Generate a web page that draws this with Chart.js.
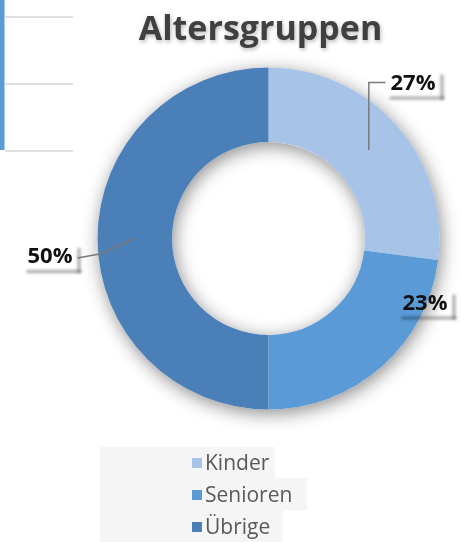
<!DOCTYPE html>
<html>
<head>
<meta charset="utf-8">
<title>Altersgruppen</title>
<script src="https://cdn.jsdelivr.net/npm/chart.js@4.4.0/dist/chart.umd.min.js"></script>
<style>
    html, body { margin: 0; padding: 0; background: #fff; }
    #wrap { position: relative; width: 462px; height: 542px; }
</style>
</head>
<body>
<div id="wrap"><canvas id="chart"></canvas></div>
<script>
const categories = ['Kinder', 'Senioren', 'Übrige'];
const shares = [27, 23, 50];
const sliceColors = ['#A7C4E8', '#5A9AD6', '#4A7FB8'];

// where each percent label sits, relative to the ring centre, and how its leader runs
const labelOffsets = [[144.5, -155], [156.5, 65], [-218.5, 18.5]];
const leaderKinds = ['elbow', null, 'bent'];

const FONT = "'Open Sans', sans-serif";

// leftovers of the neighbouring chart in the top left corner + the grey legend panel
const backdrop = {
    id: 'backdrop',
    beforeDraw(chart) {
        const ctx = chart.ctx;
        ctx.save();
        ctx.fillStyle = '#5B9BD5';
        ctx.fillRect(0, 0, 4.5, 150);
        ctx.strokeStyle = '#d6d6d6';
        ctx.lineWidth = 1.5;
        [17, 84, 151].forEach(y => {
            ctx.beginPath();
            ctx.moveTo(5, y);
            ctx.lineTo(73, y);
            ctx.stroke();
        });
        ctx.fillStyle = '#f5f5f5';
        ctx.fillRect(100, 447, 175, 31);
        ctx.fillRect(100, 478, 207, 32);
        ctx.fillRect(100, 510, 183, 32);
        ctx.restore();

        // soft glow for the title, undone before the ring is drawn
        ctx.save();
        ctx.shadowColor = 'rgba(0,0,0,0.28)';
        ctx.shadowBlur = 4;
        ctx.shadowOffsetX = 1;
        ctx.shadowOffsetY = 2;
    },
    afterLayout(chart) {
        // Excel put the title a little left of the ring centre
        chart.titleBlock.left -= 8;
        chart.titleBlock.right -= 8;
    },
    beforeDatasetsDraw(chart) {
        const ctx = chart.ctx;
        ctx.restore();
        const arc = chart.getDatasetMeta(0).data[0];
        if (!arc) return;
        ctx.save();
        ctx.shadowColor = 'rgba(0,0,0,0.45)';
        ctx.shadowBlur = 18;
        ctx.shadowOffsetX = 2;
        ctx.shadowOffsetY = 4;
        ctx.fillStyle = '#ffffff';
        ctx.beginPath();
        ctx.arc(arc.x, arc.y, arc.outerRadius, 0, Math.PI * 2);
        ctx.arc(arc.x, arc.y, arc.innerRadius, 0, Math.PI * 2, true);
        ctx.fill();
        ctx.restore();
    }
};

const percentLabels = {
    id: 'percentLabels',
    afterDatasetsDraw(chart) {
        const ctx = chart.ctx;
        const arcs = chart.getDatasetMeta(0).data;
        const values = chart.data.datasets[0].data;
        const total = values.reduce((a, b) => a + b, 0);
        ctx.save();
        ctx.font = 'bold 22px ' + FONT;
        ctx.textAlign = 'center';
        ctx.textBaseline = 'middle';
        arcs.forEach((arc, i) => {
            const text = Math.round(values[i] / total * 100) + '%';
            const lx = arc.x + labelOffsets[i][0];
            const ly = arc.y + labelOffsets[i][1];
            const w = ctx.measureText(text).width + 10;
            const h = 26;
            const left = lx - w / 2, right = lx + w / 2, top = ly - h / 2;

            // box shadow (the label boxes have no fill)
            ctx.save();
            ctx.filter = 'blur(1.5px)';
            ctx.fillStyle = 'rgba(0,0,0,0.35)';
            ctx.fillRect(left + 4, top + h, w, 3);
            ctx.fillRect(right, top + 4, 3, h - 1);
            ctx.restore();

            const c = arc.getCenterPoint();
            ctx.strokeStyle = '#7a7a7a';
            ctx.lineWidth = 1.5;
            if (leaderKinds[i] === 'elbow') {
                ctx.beginPath();
                ctx.moveTo(c.x, c.y);
                ctx.lineTo(c.x, ly - 1);
                ctx.lineTo(left, ly - 1);
                ctx.stroke();
            } else if (leaderKinds[i] === 'bent') {
                ctx.beginPath();
                ctx.moveTo(c.x, c.y);
                ctx.lineTo(right + 22, ly - 3);
                ctx.lineTo(right, ly + 1);
                ctx.stroke();
            }

            ctx.fillStyle = '#111111';
            ctx.fillText(text, lx, ly);
        });
        ctx.restore();
    }
};

const listLegend = {
    id: 'listLegend',
    afterDraw(chart) {
        const ctx = chart.ctx;
        const items = chart.options.plugins.legend.labels.generateLabels(chart);
        ctx.save();
        ctx.font = '21px ' + FONT;
        ctx.textAlign = 'left';
        ctx.textBaseline = 'middle';
        items.forEach((item, i) => {
            const y = 463 + i * 32;
            ctx.fillStyle = item.fillStyle;
            ctx.fillRect(192, y - 5, 10, 10);
            ctx.fillStyle = '#595959';
            ctx.fillText(item.text, 205, y + 1);
        });
        ctx.restore();
    }
};

new Chart(document.getElementById('chart'), {
    type: 'doughnut',
    data: {
        labels: categories,
        datasets: [{
            data: shares,
            backgroundColor: sliceColors,
            borderWidth: 0,
            hoverOffset: 0
        }]
    },
    options: {
        responsive: true,
        maintainAspectRatio: false,
        animation: false,
        cutout: '56.4%',
        layout: {
            padding: { left: 97.5, right: 22.5, top: 0, bottom: 132.5 }
        },
        plugins: {
            legend: { display: false },
            tooltip: { enabled: false },
            title: {
                display: true,
                text: 'Altersgruppen',
                color: '#404040',
                font: { family: FONT, size: 34, weight: 'bold', lineHeight: 1.2 },
                padding: { top: 10, bottom: 16.7 }
            }
        }
    },
    plugins: [backdrop, percentLabels, listLegend]
});
</script>
</body>
</html>
